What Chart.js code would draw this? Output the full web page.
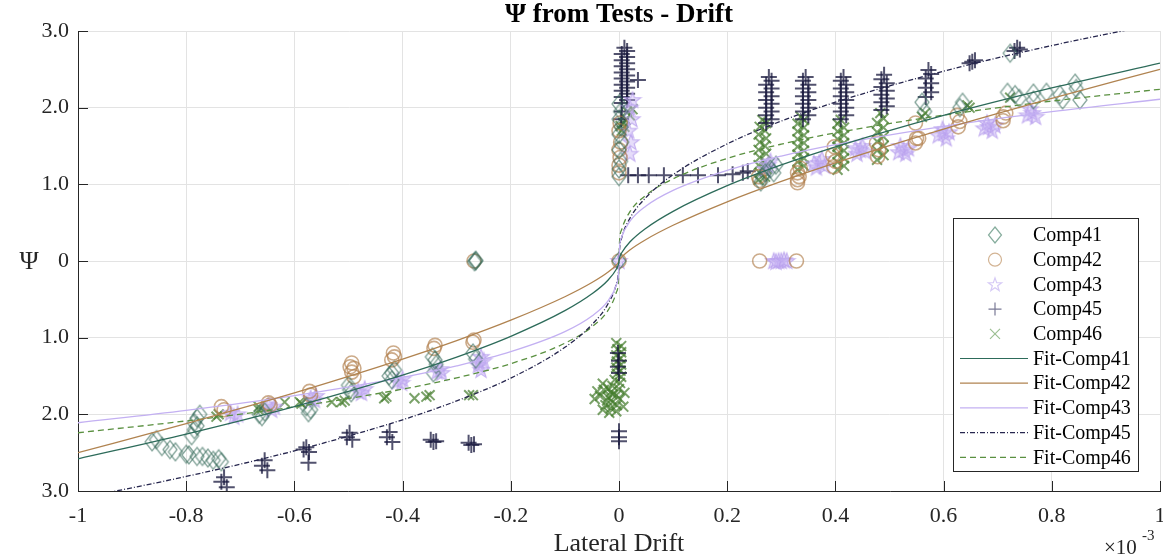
<!DOCTYPE html>
<html>
<head>
<meta charset="utf-8">
<script src="https://cdn.jsdelivr.net/npm/chart.js@4.4.0/dist/chart.umd.min.js"></script>
<style>body{margin:0;background:#ffffff}</style>
</head>
<body>
<canvas id="myPlot1" width="1163" height="559"></canvas>
<script>
// x in units of 1e-3
const xTickValues = [-1, -0.8, -0.6, -0.4, -0.2, 0, 0.2, 0.4, 0.6, 0.8, 1]
const yTickValues = [-3, -2, -1, 0, 1, 2, 3]

const comp41 = [
  [0,0],[-0.265,0],[-0.265,0.01],[-0.267,-0.01],
  [-0.863,-2.36],[-0.855,-2.33],[-0.845,-2.42],[-0.83,-2.46],[-0.82,-2.49],[-0.80,-2.52],[-0.795,-2.53],
  [-0.78,-2.55],[-0.77,-2.55],[-0.76,-2.57],[-0.75,-2.6],[-0.735,-2.62],[-0.74,-2.58],
  [-0.785,-2.11],[-0.78,-2.05],[-0.785,-2.2],[-0.79,-2.28],[-0.775,-2.0],[-0.78,-2.15],
  [-0.66,-2.03],[-0.665,-2.0],[-0.655,-1.97],[-0.574,-1.98],[-0.57,-1.94],[-0.578,-1.9],
  [-0.498,-1.68],[-0.5,-1.62],[-0.495,-1.72],[-0.42,-1.46],[-0.425,-1.5],[-0.415,-1.42],[-0.42,-1.55],
  [-0.34,-1.29],[-0.343,-1.46],[-0.345,-1.25],[-0.338,-1.35],[-0.27,-1.2],[-0.265,-1.28],
  [0,1.1],[0,1.2],[0.003,1.3],[0,1.45],[0.005,1.55],[0,1.65],[0.004,1.75],[0,1.85],[0.003,1.95],[0,2.05],
  [0.262,1.03],[0.265,1.1],[0.27,1.15],[0.286,1.15],[0.29,1.25],[0.28,1.2],
  [0.56,2.07],[0.565,1.95],[0.635,2.07],[0.63,2.0],[0.718,2.2],[0.732,2.17],[0.74,2.12],[0.766,2.19],
  [0.766,2.1],[0.79,2.2],[0.815,2.17],[0.82,2.1],[0.843,2.32],[0.852,2.1],[0.845,2.25],[0.723,2.71]
]
const comp42 = [
  [0,0],[-0.268,0],[0.26,0],[0.328,0],
  [0,1.15],[0,1.25],[0.002,1.35],[0,1.45],[0.003,1.55],[0,1.7],[0.002,1.8],
  [0.258,1.1],[0.26,1.05],[0.33,1.02],[0.33,1.06],[0.333,1.1],[0.33,1.15],[0.335,1.21],
  [0.397,1.23],[0.4,1.3],[0.395,1.38],[0.398,1.49],[0.478,1.36],[0.48,1.45],[0.476,1.54],
  [0.548,1.54],[0.55,1.6],[0.548,1.8],[0.554,1.6],[0.627,1.75],[0.63,1.82],[0.625,1.9],
  [0.71,1.88],[0.71,1.83],[0.715,1.93],
  [-0.73,-1.94],[-0.735,-1.9],[-0.648,-1.85],[-0.645,-1.88],[-0.572,-1.7],[-0.57,-1.75],
  [-0.494,-1.33],[-0.49,-1.4],[-0.494,-1.45],[-0.49,-1.51],[-0.497,-1.38],
  [-0.417,-1.2],[-0.415,-1.25],[-0.42,-1.29],[-0.34,-1.1],[-0.342,-1.14],[-0.268,-1.03],[-0.27,-1.06]
]
const comp43 = [
  [0,0],[0.286,0],[0.295,0],[0.3,0],[0.31,0],[0.29,-0.01],[0.305,0.01],
  [0.02,1.4],[0.022,1.55],[0.018,1.7],[0.024,1.85],[0.02,2.0],[0.025,2.1],
  [0.27,1.2],[0.28,1.3],[0.275,1.25],
  [0.37,1.28],[0.365,1.22],[0.375,1.33],[0.36,1.27],[0.38,1.24],
  [0.446,1.45],[0.44,1.4],[0.45,1.5],[0.455,1.43],[0.437,1.47],
  [0.526,1.45],[0.53,1.4],[0.52,1.5],[0.535,1.47],[0.517,1.42],
  [0.6,1.67],[0.605,1.6],[0.598,1.72],[0.59,1.64],[0.61,1.68],
  [0.683,1.75],[0.69,1.7],[0.68,1.8],[0.675,1.73],[0.695,1.77],
  [0.764,1.93],[0.77,1.88],[0.76,1.98],[0.755,1.9],
  [-0.712,-2.03],[-0.705,-2.0],[-0.718,-1.98],[-0.642,-1.94],[-0.637,-1.9],[-0.648,-1.88],
  [-0.563,-1.81],[-0.56,-1.76],[-0.57,-1.79],[-0.476,-1.72],[-0.47,-1.67],[-0.482,-1.7],
  [-0.402,-1.59],[-0.4,-1.54],[-0.41,-1.57],[-0.328,-1.46],[-0.33,-1.41],[-0.336,-1.44],
  [-0.255,-1.25],[-0.258,-1.32],[-0.255,-1.42],[-0.26,-1.36],[-0.25,-1.3]
]
const comp45 = [
  [0.005,2.06],[0.015,2.1],[0.005,2.14],[0.015,2.18],[0.005,2.22],[0.015,2.26],[0.005,2.3],[0.015,2.34],
  [0.005,2.38],[0.015,2.42],[0.005,2.46],[0.015,2.5],[0.005,2.54],[0.015,2.58],[0.005,2.62],[0.015,2.66],
  [0.005,2.7],[0.015,2.74],[0.01,2.78],[0.035,2.36],[0.005,1.95],[0.004,1.85],
  [0.017,1.12],[0.035,1.12],[0.055,1.12],[0.083,1.12],[0.118,1.12],[0.146,1.12],[0.183,1.12],
  [0.21,1.13],[0.229,1.15],[0.238,1.17],
  [-0.002,-1.38],[0,-1.46],[-0.002,-1.2],[0,-1.3],[0,-2.22],[0,-2.3],[0,-2.35],
  [0.272,1.8],[0.282,1.85],[0.272,1.9],[0.282,1.95],[0.272,2.0],[0.282,2.05],[0.272,2.1],
  [0.282,2.15],[0.272,2.2],[0.282,2.25],[0.272,2.3],[0.282,2.35],[0.277,2.4],
  [0.34,1.85],[0.35,1.9],[0.34,1.95],[0.35,2.0],[0.34,2.05],[0.35,2.1],[0.34,2.15],
  [0.35,2.2],[0.34,2.25],[0.35,2.3],[0.34,2.35],[0.345,2.4],
  [0.41,1.85],[0.42,1.9],[0.41,1.95],[0.42,2.0],[0.41,2.05],[0.42,2.1],[0.41,2.15],
  [0.42,2.2],[0.41,2.25],[0.42,2.3],[0.41,2.35],[0.415,2.4],
  [0.485,1.97],[0.495,2.02],[0.485,2.07],[0.495,2.12],[0.485,2.17],[0.495,2.22],[0.485,2.27],
  [0.495,2.32],[0.485,2.37],[0.49,2.43],
  [0.567,2.14],[0.577,2.2],[0.567,2.26],[0.577,2.32],[0.567,2.38],[0.577,2.44],[0.572,2.49],
  [0.653,2.6],[0.648,2.58],[0.658,2.62],[0.736,2.78],[0.731,2.74],[0.741,2.76],
  [-0.73,-2.82],[-0.735,-2.88],[-0.725,-2.95],[-0.655,-2.6],[-0.66,-2.67],[-0.65,-2.73],
  [-0.578,-2.43],[-0.583,-2.46],[-0.573,-2.49],[-0.574,-2.63],[-0.498,-2.24],[-0.503,-2.3],[-0.493,-2.33],
  [-0.424,-2.23],[-0.429,-2.3],[-0.419,-2.36],[-0.343,-2.36],[-0.348,-2.33],[-0.338,-2.35],
  [-0.273,-2.4],[-0.278,-2.37],[-0.268,-2.39]
]
const comp46 = [
  [0.005,1.7],[0.01,1.75],[0.008,1.8],[0.012,1.84],[0.02,1.9],[0.025,1.98],[0.015,1.95],[0.003,1.76],
  [-0.005,-1.07],[0.004,-1.11],[-0.003,-1.15],[0.004,-1.19],[-0.005,-1.23],[0.003,-1.27],[-0.004,-1.31],
  [0.004,-1.35],[-0.005,-1.39],[0.003,-1.43],[-0.004,-1.47],[0.004,-1.51],[-0.008,-1.55],[0.002,-1.59],
  [-0.012,-1.63],[0,-1.67],[-0.015,-1.71],[-0.005,-1.75],[-0.02,-1.78],[0.002,-1.8],[-0.012,-1.84],
  [-0.004,-1.88],[-0.015,-1.92],[-0.005,-1.96],[-0.04,-1.7],[-0.025,-1.88],
  [-0.03,-1.6],[-0.028,-1.68],[-0.035,-1.76],[-0.022,-1.82],[-0.03,-1.94],[-0.018,-1.98],[0.008,-1.9],
  [0.01,-1.72],[-0.02,-1.66],[-0.045,-1.8],[-0.012,-1.74],
  [0.258,1.06],[0.27,1.1],[0.26,1.15],[0.272,1.2],[0.258,1.25],[0.27,1.3],[0.26,1.35],[0.272,1.4],
  [0.258,1.45],[0.27,1.5],[0.26,1.55],[0.272,1.6],[0.258,1.65],[0.27,1.7],[0.26,1.75],[0.272,1.8],[0.265,1.84],
  [0.33,1.19],[0.342,1.24],[0.33,1.29],[0.342,1.34],[0.33,1.39],[0.342,1.44],[0.33,1.49],[0.342,1.54],
  [0.33,1.59],[0.342,1.64],[0.33,1.69],[0.342,1.74],[0.33,1.79],[0.342,1.84],[0.336,1.88],
  [0.404,1.19],[0.416,1.24],[0.404,1.29],[0.416,1.34],[0.404,1.39],[0.416,1.44],[0.404,1.49],
  [0.416,1.54],[0.404,1.59],[0.416,1.64],[0.404,1.69],[0.416,1.74],[0.404,1.79],[0.41,1.84],
  [0.477,1.32],[0.489,1.38],[0.477,1.44],[0.489,1.5],[0.477,1.56],[0.489,1.62],[0.477,1.68],
  [0.489,1.74],[0.477,1.8],[0.489,1.86],[0.483,1.93],
  [0.566,1.93],[0.56,1.88],[0.644,2.03],[0.648,2.0],[0.723,2.13],
  [-0.744,-2.03],[-0.74,-2.0],[-0.666,-1.94],[-0.666,-1.9],[-0.618,-1.84],[-0.59,-1.84],[-0.587,-1.86],
  [-0.531,-1.84],[-0.513,-1.84],[-0.507,-1.82],[-0.434,-1.79],[-0.43,-1.77],[-0.378,-1.79],
  [-0.356,-1.77],[-0.35,-1.75],[-0.277,-1.75],[-0.27,-1.75]
]

// fitted curves
const fitX = [-1,-0.8,-0.6,-0.4,-0.3,-0.2,-0.1,-0.05,-0.02,-0.005,-0.001,0,0.001,0.005,0.02,0.05,0.1,0.2,0.3,0.4,0.6,0.8,1]
const fit41 = [-2.58,-2.257,-1.899,-1.489,-1.253,-0.982,-0.648,-0.428,-0.247,-0.107,-0.041,0,0.041,0.107,0.247,0.428,0.648,0.982,1.253,1.489,1.899,2.257,2.58]
const fit42 = [-2.5,-2.12,-1.72,-1.28,-1.038,-0.772,-0.466,-0.281,-0.144,-0.052,-0.016,0,0.016,0.052,0.144,0.281,0.466,0.772,1.038,1.28,1.72,2.12,2.5]
const fit43 = [-2.11,-1.948,-1.755,-1.517,-1.368,-1.182,-0.921,-0.717,-0.516,-0.313,-0.176,0,0.176,0.313,0.516,0.717,0.921,1.182,1.368,1.517,1.755,1.948,2.11]
const fit45 = [-3.1,-2.81,-2.476,-2.071,-1.825,-1.527,-1.126,-0.83,-0.555,-0.301,-0.148,0,0.148,0.301,0.555,0.83,1.126,1.527,1.825,2.071,2.476,2.81,3.1]
const fit46 = [-2.24,-2.086,-1.902,-1.671,-1.524,-1.339,-1.072,-0.859,-0.641,-0.411,-0.247,0,0.247,0.411,0.641,0.859,1.072,1.339,1.524,1.671,1.902,2.086,2.24]

const FONT = '"Liberation Serif", "Times New Roman", serif'

function starPath(ctx, cx, cy, r){
    ctx.beginPath()
    for (let i = 0; i < 10; i++) {
        const rr = i % 2 === 0 ? r : r * 0.4
        const a = -Math.PI / 2 + i * Math.PI / 5
        const px = cx + rr * Math.cos(a), py = cy + rr * Math.sin(a)
        i === 0 ? ctx.moveTo(px, py) : ctx.lineTo(px, py)
    }
    ctx.closePath()
}
function diamondPath(ctx, cx, cy, hw, hh){
    ctx.beginPath()
    ctx.moveTo(cx, cy - hh); ctx.lineTo(cx + hw, cy); ctx.lineTo(cx, cy + hh); ctx.lineTo(cx - hw, cy)
    ctx.closePath()
}
function markerCanvas(kind, stroke, fill, w){
    const c = document.createElement('canvas')
    c.width = 20; c.height = 22
    const g = c.getContext('2d')
    g.strokeStyle = stroke
    g.fillStyle = fill
    g.lineWidth = w
    if (kind === 'star') starPath(g, 10, 11.5, 8.5)
    else diamondPath(g, 10, 11, 7, 9)
    g.fill()
    g.stroke()
    return c
}

const pts = arr => arr.map(p => ({x: p[0], y: p[1]}))
const curve = ys => fitX.map((x, i) => ({x: x, y: ys[i]}))

function scatterSet(label, data, style, color, radius, width){
    return {
        label: label, data: pts(data), showLine: false, order: 2,
        pointStyle: style, pointRadius: radius, borderColor: color,
        backgroundColor: 'rgba(0,0,0,0)', pointBorderWidth: width || 1.2
    }
}
function fitSet(label, ys, color, dash){
    return {
        label: label, data: curve(ys), showLine: true, order: 1,
        borderColor: color, borderWidth: 1.3, borderDash: dash || [],
        pointRadius: 0, fill: false, cubicInterpolationMode: 'monotone'
    }
}

const legendItems = [
    {label: 'Comp41', mark: 'diamond', color: '#86ad9d'},
    {label: 'Comp42', mark: 'circle', color: '#d3b494'},
    {label: 'Comp43', mark: 'star', color: '#d6caf6'},
    {label: 'Comp45', mark: 'plus', color: '#7a7a96'},
    {label: 'Comp46', mark: 'x', color: '#9cbf92'},
    {label: 'Fit-Comp41', line: '#2d6b5a', dash: []},
    {label: 'Fit-Comp42', line: '#b08350', dash: []},
    {label: 'Fit-Comp43', line: '#c3b0f2', dash: []},
    {label: 'Fit-Comp45', line: '#26264e', dash: [5, 2, 1, 2]},
    {label: 'Fit-Comp46', line: '#5a9040', dash: [6, 4]}
]

const decorations = {
    id: 'decorations',
    afterDraw: (chart) => {
        const {ctx, chartArea: a, scales: {x, y}} = chart
        ctx.save()
        // inward ticks
        ctx.strokeStyle = '#262626'
        ctx.lineWidth = 1
        ctx.beginPath()
        x.ticks.forEach(t => {
            const p = Math.round(x.getPixelForValue(t.value)) + 0.5
            ctx.moveTo(p, a.bottom); ctx.lineTo(p, a.bottom - 10)
        })
        y.ticks.forEach(t => {
            const p = Math.round(y.getPixelForValue(t.value)) + 0.5
            ctx.moveTo(a.left, p); ctx.lineTo(a.left + 10, p)
        })
        ctx.stroke()

        // x tick labels
        ctx.fillStyle = '#262626'
        ctx.textAlign = 'center'
        ctx.textBaseline = 'middle'
        ctx.font = '22px ' + FONT
        x.ticks.forEach(t => {
            ctx.fillText(String(Math.round(t.value * 10) / 10), x.getPixelForValue(t.value), 516)
        })

        // texts
        ctx.fillStyle = '#000000'
        ctx.font = 'bold 27px ' + FONT
        ctx.fillText('Ψ from Tests - Drift', (a.left + a.right) / 2, 15)
        ctx.font = '26px ' + FONT
        ctx.fillStyle = '#262626'
        ctx.fillText('Lateral Drift', (a.left + a.right) / 2, 544)
        ctx.fillText('Ψ', 29, 262)
        ctx.textAlign = 'left'
        ctx.font = '21px ' + FONT
        ctx.fillText('×10', 1104, 548)
        ctx.font = '15px ' + FONT
        ctx.fillText('-3', 1142, 536)

        // legend
        const bx = 953, by = 218, bw = 185, bh = 253
        ctx.fillStyle = '#ffffff'
        ctx.fillRect(bx, by, bw, bh)
        ctx.strokeStyle = '#262626'
        ctx.strokeRect(bx + 0.5, by + 0.5, bw, bh)
        ctx.font = '20px ' + FONT
        ctx.textBaseline = 'middle'
        legendItems.forEach((it, i) => {
            const cy = 235 + i * 24.7
            const mx = 995
            ctx.lineWidth = 1.2
            if (it.line) {
                ctx.strokeStyle = it.line
                ctx.setLineDash(it.dash)
                ctx.beginPath(); ctx.moveTo(960, cy); ctx.lineTo(1028, cy); ctx.stroke()
                ctx.setLineDash([])
            } else {
                ctx.strokeStyle = it.color
                ctx.beginPath()
                if (it.mark === 'diamond') {
                    diamondPath(ctx, mx, cy, 6.5, 8)
                } else if (it.mark === 'circle') {
                    ctx.arc(mx, cy, 6.5, 0, Math.PI * 2)
                } else if (it.mark === 'star') {
                    starPath(ctx, mx, cy + 0.5, 7)
                } else if (it.mark === 'plus') {
                    ctx.moveTo(mx - 6.5, cy); ctx.lineTo(mx + 6.5, cy); ctx.moveTo(mx, cy - 6.5); ctx.lineTo(mx, cy + 6.5)
                } else {
                    ctx.moveTo(mx - 5, cy - 5); ctx.lineTo(mx + 5, cy + 5); ctx.moveTo(mx + 5, cy - 5); ctx.lineTo(mx - 5, cy + 5)
                }
                ctx.stroke()
            }
            ctx.fillStyle = '#000000'
            ctx.fillText(it.label, 1033, cy + 1)
        })
        ctx.restore()
    }
}

const bgPlugin = {
    id: 'customCanvasBackgroundColor',
    beforeDraw: (chart) => {
        const {ctx} = chart
        ctx.save()
        ctx.globalCompositeOperation = 'destination-over'
        ctx.fillStyle = '#ffffff'
        ctx.fillRect(0, 0, chart.width, chart.height)
        ctx.restore()
    }
}

new Chart("myPlot1", {
    type: 'scatter',
    data: {
        datasets: [
            scatterSet('Comp41', comp41, markerCanvas('diamond', 'rgba(52,105,88,0.6)', 'rgba(0,0,0,0)', 1.3), 'rgba(52,105,88,0.6)', 8),
            scatterSet('Comp42', comp42, 'circle', 'rgba(176,126,76,0.65)', 7, 1.6),
            scatterSet('Comp43', comp43, markerCanvas('star', 'rgba(185,160,238,0.8)', 'rgba(200,180,245,0.45)', 1.2), 'rgba(185,160,238,0.8)', 8),
            scatterSet('Comp45', comp45, 'cross', 'rgba(24,24,62,0.75)', 8, 2),
            scatterSet('Comp46', comp46, 'crossRot', 'rgba(66,122,42,0.7)', 7, 2)
        ].concat([
            fitSet('Fit-Comp41', fit41, '#2d6b5a'),
            fitSet('Fit-Comp42', fit42, '#b08350'),
            fitSet('Fit-Comp43', fit43, '#c3b0f2'),
            fitSet('Fit-Comp45', fit45, '#26264e', [5, 2, 1, 2]),
            fitSet('Fit-Comp46', fit46, '#5a9040', [6, 4])
        ])
    },
    options: {
        responsive: false,
        animation: false,
        layout: {autoPadding: false, padding: {top: 31, right: 3, left: 0, bottom: 0}},
        scales: {
            x: {
                type: 'linear', min: -1, max: 1,
                afterBuildTicks: s => { s.ticks = xTickValues.map(v => ({value: v})) },
                afterFit: s => { s.height = 68 },
                grid: {color: '#e3e3e3', drawTicks: false},
                border: {color: '#262626', width: 1},
                ticks: {display: false}
            },
            y: {
                type: 'linear', min: -3, max: 3,
                afterBuildTicks: s => { s.ticks = yTickValues.map(v => ({value: v})) },
                afterFit: s => { s.width = 78 },
                grid: {color: '#e3e3e3', drawTicks: false},
                border: {color: '#262626', width: 1},
                ticks: {
                    color: '#262626', padding: 9,
                    font: {family: FONT, size: 22},
                    callback: v => v === 0 ? '0' : Math.abs(v).toFixed(1)
                }
            }
        },
        plugins: {
            legend: {display: false},
            title: {display: false},
            tooltip: {enabled: false}
        }
    },
    plugins: [bgPlugin, decorations]
})
</script>
</body>
</html>
